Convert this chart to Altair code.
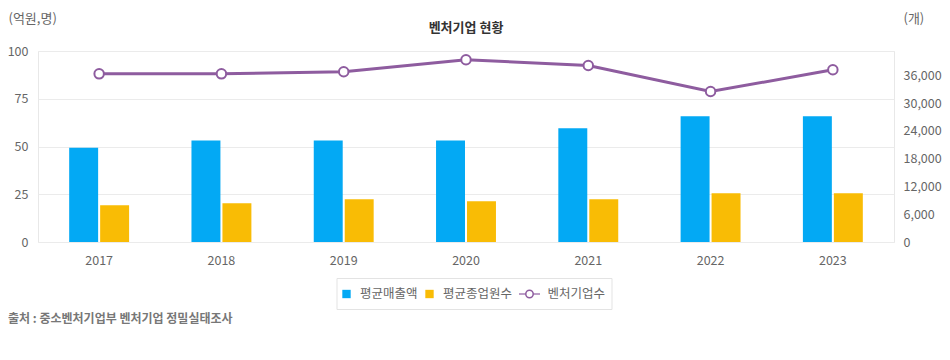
import altair as alt
import pandas as pd

years = ["2017", "2018", "2019", "2020", "2021", "2022", "2023"]
sales = [49.4, 53.2, 53.2, 53.2, 59.5, 65.8, 65.8]          # 평균매출액 (억원)
employees = [19.2, 20.3, 22.4, 21.3, 22.4, 25.5, 25.5]      # 평균종업원수 (명)
firms = [36320, 36320, 36755, 39350, 38120, 32490, 37190]   # 벤처기업수 (개)

series_names = ["평균매출액", "평균종업원수"]
bar_colors = ["#03A9F4", "#F9BC05"]
line_color = "#8E5C9F"
left_ticks = [0, 25, 50, 75, 100]
right_ticks = [0, 6000, 12000, 18000, 24000, 30000, 36000]

FONT = "Noto Sans CJK KR"

bars_df = pd.DataFrame(
    [{"year": y, "series": series_names[0], "value": v} for y, v in zip(years, sales)]
    + [{"year": y, "series": series_names[1], "value": v} for y, v in zip(years, employees)]
)
line_df = pd.DataFrame({"year": years, "firms": firms})
one = pd.DataFrame({"k": [0]})

x_enc = alt.X(
    "year:N",
    sort=years,
    scale=alt.Scale(paddingInner=0.51, paddingOuter=0.255),
    axis=alt.Axis(
        title=None, labelAngle=0, ticks=False, domain=False, labelPadding=12,
        labelFontSize=12.5, labelColor="#666", labelFont=FONT,
    ),
)

bars = alt.Chart(bars_df).mark_bar().encode(
    x=x_enc,
    xOffset=alt.XOffset("series:N", sort=series_names, scale=alt.Scale(paddingInner=0.065)),
    y=alt.Y(
        "value:Q",
        scale=alt.Scale(domain=[0, 100], nice=False),
        axis=alt.Axis(
            values=left_ticks, grid=True, gridColor="#ebebeb", domain=False, ticks=False,
            labelPadding=10, labelFontSize=12.5, labelColor="#666", labelFont=FONT,
            title="(억원,명)", titleAngle=0, titleAlign="left", titleBaseline="middle",
            titleX=-30, titleY=-33, titleColor="#666", titleFontWeight="normal",
            titleFontSize=13, titleFont=FONT,
        ),
    ),
    color=alt.Color("series:N", scale=alt.Scale(domain=series_names, range=bar_colors), legend=None),
)

right_axis = alt.Axis(
    orient="right", values=right_ticks, format=",.0f", grid=False, domain=False, ticks=False,
    labelPadding=9, labelFontSize=12.5, labelColor="#666", labelFont=FONT,
    title="(개)", titleAngle=0, titleAlign="left", titleBaseline="middle",
    titleX=9, titleY=-33, titleColor="#666", titleFontWeight="normal",
    titleFontSize=13, titleFont=FONT,
)

line = alt.Chart(line_df).mark_line(
    color=line_color, strokeWidth=3,
    point=alt.OverlayMarkDef(
        filled=True, fill="white", stroke=line_color, strokeWidth=2, size=90, opacity=1
    ),
).encode(
    x=alt.X("year:N", sort=years),
    y=alt.Y("firms:Q", scale=alt.Scale(domain=[0, 41250], nice=False), axis=right_axis),
)

title = alt.Chart(one).mark_text(
    text="벤처기업 현황", font=FONT, fontSize=13, fontWeight="bold", color="#333",
    align="center", baseline="middle",
).encode(x=alt.value(428), y=alt.value(-23))

# legend
leg_y = 243
legend_box = alt.Chart(one).mark_rect(fill="white", stroke="#e3e3e3", strokeWidth=1).encode(
    x=alt.value(299), x2=alt.value(574), y=alt.value(227.5), y2=alt.value(258.5)
)
sq1 = alt.Chart(one).mark_square(size=70, color=bar_colors[0], opacity=1).encode(
    x=alt.value(308.5), y=alt.value(leg_y)
)
sq2 = alt.Chart(one).mark_square(size=70, color=bar_colors[1], opacity=1).encode(
    x=alt.value(391.5), y=alt.value(leg_y)
)
leg_line = alt.Chart(one).mark_rule(color=line_color, strokeWidth=1.2).encode(
    x=alt.value(481), x2=alt.value(502), y=alt.value(leg_y)
)
leg_pt = alt.Chart(one).mark_point(
    filled=True, fill="white", stroke=line_color, strokeWidth=1.5, size=55, opacity=1
).encode(x=alt.value(491.5), y=alt.value(leg_y))


def leg_text(txt, xpos):
    return alt.Chart(one).mark_text(
        text=txt, font=FONT, fontSize=12.5, color="#666", align="left", baseline="middle"
    ).encode(x=alt.value(xpos), y=alt.value(leg_y))


source = alt.Chart(one).mark_text(
    text="출처 : 중소벤처기업부 벤처기업 정밀실태조사", font=FONT, fontSize=12,
    fontWeight="bold", color="#777", align="left", baseline="middle",
).encode(x=alt.value(-30), y=alt.value(268))

chart = (
    alt.layer(
        bars, line, title, legend_box, sq1, sq2, leg_line, leg_pt,
        leg_text("평균매출액", 322), leg_text("평균종업원수", 405), leg_text("벤처기업수", 509.5),
        source,
    )
    .resolve_scale(y="independent")
    .properties(
        width=856, height=191,
        padding={"left": 30, "top": 43, "right": 48, "bottom": 88},
        autosize=alt.AutoSizeParams(type="none"),
        background="white",
    )
    .configure_view(stroke="#e8e8e8")
)

chart.save("out.html", embed_options={"renderer": "svg", "actions": False})
